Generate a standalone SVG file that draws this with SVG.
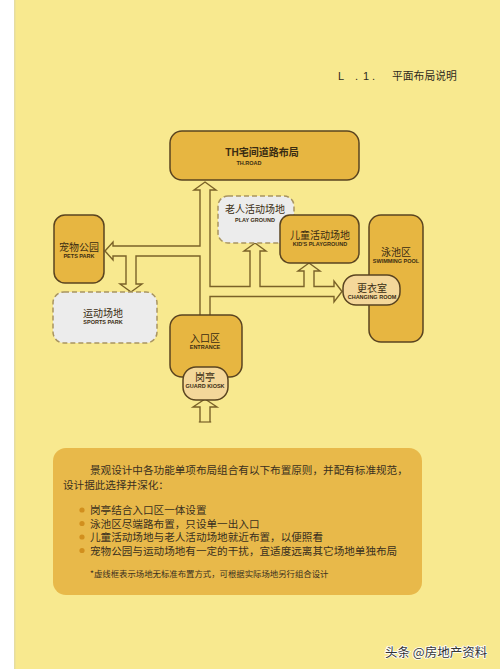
<svg xmlns="http://www.w3.org/2000/svg" width="500" height="669" viewBox="0 0 500 669">
<defs>
<style>
.bg{fill:#F8E98F}
.node{fill:#E7B641;stroke:#5A4420;stroke-width:1.5}
.light{fill:#F4D79A;stroke:#5A4420;stroke-width:1.5}
.dash{fill:#ECECEC;stroke:#A89460;stroke-width:1.5;stroke-dasharray:5 3}
.zh{font-family:"Noto Sans CJK SC",sans-serif;fill:#3A2C12;text-anchor:middle;font-size:10px}
.en{font-family:"Liberation Sans",Arial,sans-serif;font-weight:bold;fill:#3A2C12;text-anchor:middle;font-size:5.5px}
.cho{fill:none;stroke:#7A6228;stroke-width:11.4}
.chi{fill:none;stroke:#F8E98F;stroke-width:8.6}
.head{fill:#F8E98F;stroke:#7A6228;stroke-width:1.4;stroke-linejoin:miter}
.body{font-family:"Noto Sans CJK SC",sans-serif;fill:#3A3020;font-size:10.6px}
.note{font-family:"Noto Sans CJK SC",sans-serif;fill:#3A3020;font-size:8.4px}
.dot{fill:#D18F1E}
</style>
</defs>
<rect class="bg" x="0" y="0" width="500" height="669"/>
<rect x="0" y="0" width="14" height="669" fill="#FFFFFF"/>
<rect x="14" y="0" width="1.5" height="669" fill="#E6DDA0"/>

<g id="header" font-family="Liberation Sans, Arial, sans-serif" font-size="11" fill="#2E2A20">
<text x="338" y="80">L</text><text x="355" y="80">.</text><text x="363" y="80">1</text><text x="372" y="80">.</text>
<text x="392" y="80" font-family="Noto Sans CJK SC, sans-serif" font-size="10.8">平面布局说明</text>
</g>

<g id="connectors">
<path class="cho" d="M205 318V190 M205 251H113 M131 251V284 M205 291.5H334 M255 291.5V251 M309 291.5V271 M205 422V407"/>
<polygon class="head" points="205,182 216,190 194,190"/>
<polygon class="head" points="105,251 113,242 113,260"/>
<polygon class="head" points="131,292 120,284 142,284"/>
<polygon class="head" points="342,291.5 334,281 334,302"/>
<polygon class="head" points="255,243 266,251 244,251"/>
<polygon class="head" points="309,263 320,271 298,271"/>
<polygon class="head" points="205,399 217,407 193,407"/>
<path class="chi" d="M205 318V188.5 M205 251H111.5 M131 251V285.5 M205 291.5H335.5 M255 291.5V249.5 M309 291.5V269.5 M205 424V405.5"/>
<path d="M198.8 422H211.2" stroke="#7A6228" stroke-width="1.2"/>
</g>

<g id="th-road">
<rect class="node" x="170" y="131" width="189" height="49" rx="12"/>
<text class="zh" x="262" y="156" font-weight="bold"><tspan font-family="Liberation Sans, Arial, sans-serif">TH</tspan>宅间道路布局</text>
<text class="en" x="249" y="165">TH.ROAD</text>
</g>

<g id="play-ground">
<rect class="dash" x="218" y="196" width="76" height="47" rx="10"/>
<text class="zh" x="255" y="212.5">老人活动场地</text>
<text class="en" x="255" y="222">PLAY GROUND</text>
</g>

<g id="kids-playground">
<rect class="node" x="280" y="215" width="79" height="48" rx="10"/>
<text class="zh" x="320" y="238.5">儿童活动场地</text>
<text class="en" x="320" y="246">KID'S PLAYGROUND</text>
</g>

<g id="swimming-pool">
<rect class="node" x="369" y="215" width="54" height="127" rx="12"/>
<text class="zh" x="396" y="255.5">泳池区</text>
<text class="en" x="396" y="263">SWIMMING POOL</text>
</g>

<g id="changing-room">
<rect class="light" x="343" y="275" width="57" height="30" rx="13"/>
<text class="zh" x="372" y="291.5">更衣室</text>
<text class="en" x="372" y="298.5">CHANGING ROOM</text>
</g>

<g id="pets-park">
<rect class="node" x="54" y="215" width="50" height="68" rx="11"/>
<text class="zh" x="79" y="250.5">宠物公园</text>
<text class="en" x="79" y="258">PETS PARK</text>
</g>

<g id="sports-park">
<rect class="dash" x="53" y="292" width="104" height="51" rx="11"/>
<text class="zh" x="103" y="316.5">运动场地</text>
<text class="en" x="103" y="324">SPORTS PARK</text>
</g>

<g id="entrance">
<rect class="node" x="170" y="315" width="72" height="62" rx="12"/>
<text class="zh" x="205" y="341.5">入口区</text>
<text class="en" x="205" y="349">ENTRANCE</text>
</g>

<g id="guard-kiosk">
<rect class="light" x="183" y="367" width="45" height="33" rx="13"/>
<text class="zh" x="205" y="380.5">岗亭</text>
<text class="en" x="205" y="388">GUARD KIOSK</text>
</g>

<g id="notes">
<rect x="53" y="448" width="369" height="147" rx="13" fill="#E8B94A"/>
<text class="body" x="90" y="474">景观设计中各功能单项布局组合有以下布置原则，并配有标准规范，</text>
<text class="body" x="63" y="489">设计据此选择并深化：</text>
<circle class="dot" cx="82" cy="510" r="2.6"/>
<circle class="dot" cx="82" cy="523.5" r="2.6"/>
<circle class="dot" cx="82" cy="537" r="2.6"/>
<circle class="dot" cx="82" cy="550.5" r="2.6"/>
<text class="body" x="90" y="514">岗亭结合入口区一体设置</text>
<text class="body" x="90" y="527.5">泳池区尽端路布置，只设单一出入口</text>
<text class="body" x="90" y="541">儿童活动场地与老人活动场地就近布置，以便照看</text>
<text class="body" x="90" y="554.5">宠物公园与运动场地有一定的干扰，宜适度远离其它场地单独布局</text>
<text class="note" x="90" y="577">*虚线框表示场地无标准布置方式，可根据实际场地另行组合设计</text>
</g>

<g id="watermark">
<text x="385" y="657" font-family="Noto Sans CJK SC, sans-serif" font-size="12.5" fill="#333333" stroke="#FFFFFF" stroke-width="1.5" paint-order="stroke">头条 @房地产资料</text>
</g>
</svg>
